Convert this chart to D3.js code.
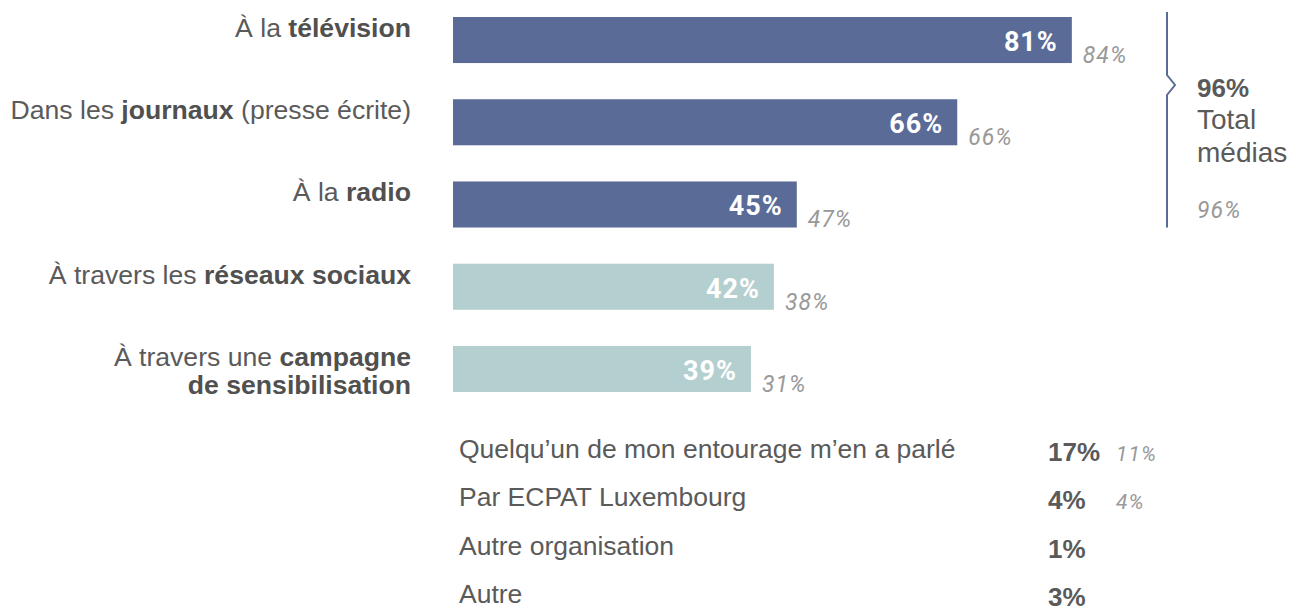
<!DOCTYPE html>
<html>
<head>
<meta charset="utf-8">
<script src="https://cdn.jsdelivr.net/npm/d3@7"></script>
<style>
  body { margin: 0; background: #fff; }
  svg { display: block; }
</style>
</head>
<body>
<svg id="chart" width="1292" height="611"></svg>
<script>
// bar categories, each line as [text, bold] segments
const categories = ['tv', 'presse', 'radio', 'reseaux', 'campagne'];
const categoryLabels = [
    [[['À la ', false], ['télévision', true]]],
    [[['Dans les ', false], ['journaux', true], [' (presse écrite)', false]]],
    [[['À la ', false], ['radio', true]]],
    [[['À travers les ', false], ['réseaux sociaux', true]]],
    [[['À travers une ', false], ['campagne', true]], [['de sensibilisation', true]]]
];
const currentValues = [81, 66, 45, 42, 39];
const previousValues = [84, 66, 47, 38, 31];
const isMedia = [true, true, true, false, false];

const totalValue = 96;
const totalPrevious = 96;
const totalLabel = ['Total', 'médias'];

const otherLabels = ['Quelqu’un de mon entourage m’en a parlé', 'Par ECPAT Luxembourg', 'Autre organisation', 'Autre'];
const otherValues = [17, 4, 1, 3];
const otherPrevious = [11, 4, null, null];

const svg = d3.select('#chart');
const darkBar = '#5b6b98';
const lightBar = '#b4cfcf';
const textColor = '#5a5a5a';
const greyText = '#999';
const labelFont = '"Liberation Sans", Arial, sans-serif';
const valueFont = 'Roboto, sans-serif';

const x = d3.scaleLinear().domain([0, 100]).range([453, 453 + 764]);
const y = d3.scaleBand().domain(categories).range([17, 392]).paddingInner(0.44).paddingOuter(0);

const rows = categories.map((c, i) => ({
    key: c, lines: categoryLabels[i], value: currentValues[i],
    prev: previousValues[i], media: isMedia[i]
}));

// bars
svg.selectAll('rect.bar').data(rows).enter().append('rect')
    .attr('class', 'bar')
    .attr('x', x(0))
    .attr('y', d => y(d.key))
    .attr('width', d => x(d.value) - x(0))
    .attr('height', y.bandwidth())
    .attr('fill', d => d.media ? darkBar : lightBar);

// value inside bar
svg.selectAll('text.val').data(rows).enter().append('text')
    .attr('class', 'val')
    .attr('x', d => x(d.value) - 14)
    .attr('y', d => y(d.key) + 34)
    .attr('text-anchor', 'end')
    .attr('fill', '#fff')
    .attr('font-family', valueFont)
    .attr('font-weight', 'bold')
    .attr('font-size', '27px')
    .attr('letter-spacing', '1px')
    .text(d => d.value + '%');

// previous value next to bar
svg.selectAll('text.prev').data(rows).enter().append('text')
    .attr('class', 'prev')
    .attr('x', d => x(d.value) + 11)
    .attr('y', d => y(d.key) + 46)
    .attr('fill', greyText)
    .attr('font-family', valueFont)
    .attr('font-style', 'italic')
    .attr('font-size', '23px')
    .attr('letter-spacing', '1px')
    .text(d => d.prev + '%');

// category labels
const labels = svg.selectAll('text.cat').data(rows).enter().append('text')
    .attr('class', 'cat')
    .attr('text-anchor', 'end')
    .attr('font-family', labelFont)
    .attr('font-size', '26.6px')
    .attr('fill', textColor);

labels.each(function(d) {
    const t = d3.select(this);
    d.lines.forEach((line, li) => {
        line.forEach((seg, si) => {
            const ts = t.append('tspan').text(seg[0])
                .attr('font-weight', seg[1] ? 'bold' : 'normal');
            if (seg[1]) ts.attr('fill', '#505050');
            if (si === 0) ts.attr('x', 411).attr('y', y(d.key) + 20 + li * 28);
        });
    });
});

// bracket for media total
const mediaKeys = categories.filter((c, i) => isMedia[i]);
const bracketTop = y(mediaKeys[0]) - 5;
const bracketBottom = y(mediaKeys[mediaKeys.length - 1]) + y.bandwidth();
const bx = 1167;
const mid = 85;
svg.append('path')
    .attr('d', `M${bx},${bracketTop} L${bx},${mid - 10} L${bx + 8},${mid} L${bx},${mid + 10} L${bx},${bracketBottom}`)
    .attr('fill', 'none')
    .attr('stroke', darkBar)
    .attr('stroke-width', 2);

svg.append('text')
    .attr('x', 1197).attr('y', 97)
    .attr('font-family', labelFont)
    .attr('font-weight', 'bold')
    .attr('font-size', '26px')
    .attr('fill', textColor)
    .text(totalValue + '%');

svg.selectAll('text.total').data(totalLabel).enter().append('text')
    .attr('class', 'total')
    .attr('x', 1197)
    .attr('y', (d, i) => 129 + i * 33)
    .attr('font-family', labelFont)
    .attr('font-size', '28px')
    .attr('fill', textColor)
    .text(d => d);

svg.append('text')
    .attr('x', 1197).attr('y', 218)
    .attr('font-family', valueFont)
    .attr('font-style', 'italic')
    .attr('font-size', '23px')
    .attr('letter-spacing', '1px')
    .attr('fill', greyText)
    .text(totalPrevious + '%');

// other sources list
const yOther = d3.scalePoint().domain(otherLabels).range([458, 603]);

svg.selectAll('text.other').data(otherLabels).enter().append('text')
    .attr('class', 'other')
    .attr('x', 459)
    .attr('y', d => yOther(d))
    .attr('font-family', labelFont)
    .attr('font-size', '26.5px')
    .attr('fill', textColor)
    .text(d => d);

svg.selectAll('text.otherVal').data(otherLabels).enter().append('text')
    .attr('class', 'otherVal')
    .attr('x', 1048)
    .attr('y', d => yOther(d) + 3)
    .attr('font-family', labelFont)
    .attr('font-weight', 'bold')
    .attr('font-size', '26px')
    .attr('fill', textColor)
    .text((d, i) => otherValues[i] + '%');

svg.selectAll('text.otherPrev').data(otherLabels.filter((d, i) => otherPrevious[i] !== null)).enter().append('text')
    .attr('class', 'otherPrev')
    .attr('x', 1116)
    .attr('y', d => yOther(d) + 3)
    .attr('font-family', valueFont)
    .attr('font-style', 'italic')
    .attr('font-size', '21px')
    .attr('letter-spacing', '1px')
    .attr('fill', greyText)
    .text(d => otherPrevious[otherLabels.indexOf(d)] + '%');
</script>
</body>
</html>
